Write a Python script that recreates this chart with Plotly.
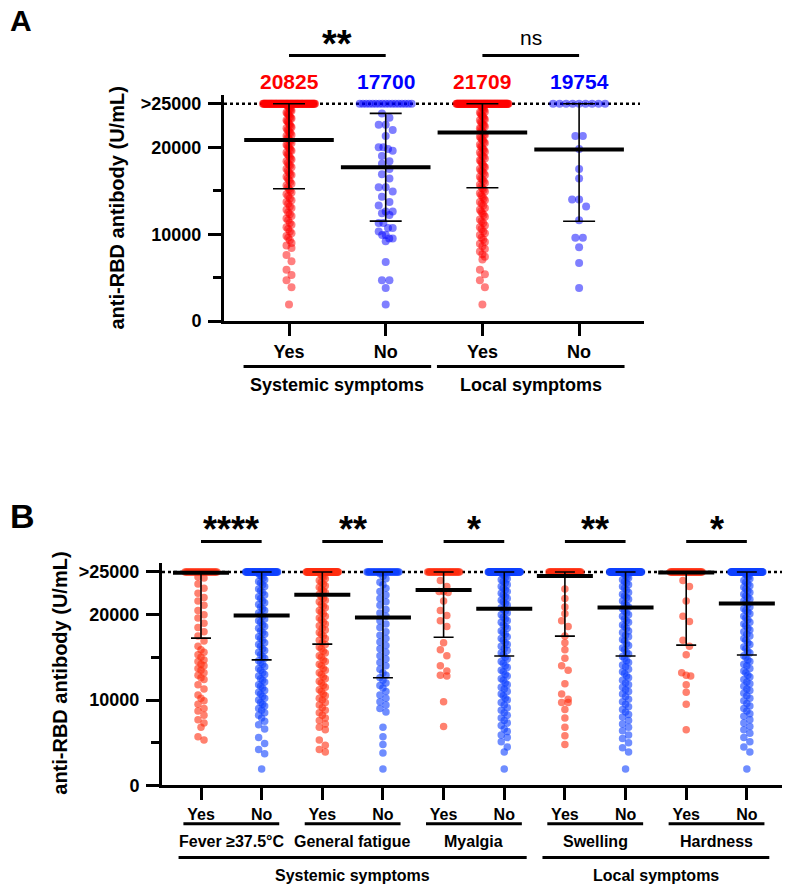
import plotly.graph_objects as go

# The page body adds an 8 px margin, so figure pixel = page pixel - 8
PAGE_W, PAGE_H, BODY = 790, 895, 8
W, H = PAGE_W, PAGE_H
FONT = "Liberation Sans, Arial, sans-serif"
CAP = 25000

# ---------------- DATA (values in 1000 U/mL; capped = number of ">25000" results) ----------------
A_labels = ["Yes", "No", "Yes", "No"]
A_groups = ["Systemic symptoms", "Local symptoms"]
A_means = [20825, 17700, 21709, 19754]
A_sd = [5600, 6200, 6370, 8270]
A_capped = [95, 17, 110, 9]
A_sys_yes = [24.9, 24.8, 24.8, 24.6, 24.5, 24.4, 24.3, 24.2, 24.0, 23.9, 23.8, 23.7, 23.5, 23.4, 23.3, 23.1,
             23.0, 22.9, 22.7, 22.6, 22.4, 22.3, 22.2, 22.0, 21.9, 21.7, 21.6, 21.4, 21.3, 21.1, 21.0, 20.8,
             20.7, 20.5, 20.3, 20.2, 20.0, 19.9, 19.7, 19.6, 19.4, 19.2, 19.1, 18.9, 18.7, 18.6, 18.4, 18.2,
             18.0, 17.9, 17.7, 17.5, 17.3, 17.1, 16.9, 16.8, 16.6, 16.4, 16.2, 16.0, 15.8, 15.6, 15.4, 15.2,
             15.0, 14.8, 14.6, 14.4, 14.1, 13.9, 13.7, 13.5, 13.2, 13.0, 12.8, 12.5, 12.3, 12.1, 11.8, 11.6,
             11.3, 11.1, 10.8, 10.6, 10.3, 10.1, 9.8, 9.6, 9.3, 9.0, 8.7, 8.4, 7.6, 6.9, 5.9, 5.3, 4.7, 3.9, 1.9]
A_sys_no = [23.9, 23.4, 22.6, 22.6, 22.0, 21.3, 20.0, 20.0, 19.8, 19.6, 19.0, 18.4, 18.1, 17.5, 16.9, 16.4,
            15.4, 15.4, 14.9, 14.3, 13.7, 13.3, 12.6, 12.6, 12.4, 12.2, 11.3, 11.3, 10.7, 10.7, 10.3, 9.9,
            9.9, 9.5, 9.5, 9.2, 6.8, 4.7, 4.7, 3.8, 1.9]
A_loc_yes = [24.9, 24.9, 24.7, 24.6, 24.6, 24.4, 24.3, 24.1, 24.0, 23.9, 23.7, 23.6, 23.5, 23.3, 23.2, 23.1,
             22.9, 22.8, 22.6, 22.5, 22.4, 22.2, 22.1, 21.9, 21.8, 21.7, 21.5, 21.4, 21.2, 21.1, 20.9, 20.8,
             20.6, 20.5, 20.3, 20.1, 20.0, 19.8, 19.7, 19.5, 19.4, 19.2, 19.0, 18.9, 18.7, 18.5, 18.4, 18.2,
             18.0, 17.8, 17.7, 17.5, 17.3, 17.2, 17.0, 16.8, 16.6, 16.4, 16.3, 16.1, 15.9, 15.7, 15.5, 15.3,
             15.1, 14.9, 14.7, 14.5, 14.3, 14.1, 13.9, 13.7, 13.5, 13.3, 13.0, 12.8, 12.6, 12.4, 12.2, 12.0,
             11.7, 11.5, 11.3, 11.0, 10.8, 10.6, 10.3, 10.1, 9.9, 9.6, 9.4, 9.1, 8.9, 8.6, 8.3, 8.0, 7.7,
             7.4, 7.1, 5.9, 5.4, 4.7, 3.9, 1.9]
A_loc_no = [21.3, 21.3, 19.8, 17.5, 16.4, 14.0, 14.0, 13.2, 11.6, 9.6, 9.6, 8.5, 6.7, 3.8]
A_sig = ["**", "ns"]

B_labels = ["Yes", "No"] * 5
B_sub = ["Fever ≥37.5°C", "General fatigue", "Myalgia", "Swelling", "Hardness"]
B_groups = ["Systemic symptoms", "Local symptoms"]
B_means = [24900, 19900, 22340, 19680, 22900, 20700, 24540, 20830, 24950, 21300]
B_sd = [7650, 5200, 5790, 7080, 5540, 5540, 7060, 5670, 8520, 6020]
B_capped = [28, 60, 70, 35, 35, 85, 40, 80, 40, 85]
B_sig = ["****", "**", "*", "**", "*"]
B_fever_yes = [24.4, 24.3, 23.6, 23.1, 22.5, 22.0, 21.6, 21.1, 20.5, 20.0, 19.6, 19.0, 18.5, 18.0, 17.5,
               16.9, 16.3, 15.9, 15.6, 15.3, 15.0, 14.7, 14.5, 14.2, 14.0, 13.7, 13.5, 13.2, 12.9, 12.6,
               12.4, 11.8, 11.3, 10.6, 10.2, 9.9, 9.5, 9.0, 8.7, 8.2, 7.7, 7.3, 6.8, 5.7, 5.3]
B_fever_no = [24.8, 24.6, 24.5, 24.3, 24.1, 23.9, 23.7, 23.5, 23.3, 23.0, 22.8, 22.6, 22.3, 22.1, 21.9,
              21.6, 21.4, 21.2, 20.9, 20.7, 20.5, 20.2, 20.0, 19.8, 19.5, 19.3, 19.1, 18.8, 18.6, 18.4,
              18.1, 17.9, 17.7, 17.4, 17.2, 17.0, 16.7, 16.5, 16.3, 16.0, 15.8, 15.6, 15.3, 15.1, 14.9,
              14.6, 14.4, 14.2, 13.9, 13.7, 13.5, 13.2, 13.0, 12.8, 12.5, 12.3, 12.1, 11.8, 11.6, 11.4,
              11.1, 10.9, 10.7, 10.4, 10.2, 10.0, 9.7, 9.5, 9.3, 9.0, 8.8, 8.5, 8.2, 7.9, 7.5, 7.1, 6.6,
              5.6, 4.9, 4.2, 3.7, 1.9]
B_fatigue_yes = [24.9, 24.7, 24.5, 24.4, 24.2, 24.0, 23.8, 23.6, 23.4, 23.2, 23.0, 22.8, 22.6, 22.4, 22.1,
                 21.9, 21.7, 21.5, 21.2, 21.0, 20.8, 20.5, 20.3, 20.1, 19.8, 19.6, 19.4, 19.1, 18.9, 18.7,
                 18.4, 18.2, 17.9, 17.7, 17.5, 17.2, 17.0, 16.7, 16.5, 16.2, 16.0, 15.7, 15.5, 15.2, 15.0,
                 14.7, 14.5, 14.2, 14.0, 13.7, 13.5, 13.2, 13.0, 12.7, 12.5, 12.2, 12.0, 11.7, 11.5, 11.2,
                 11.0, 10.7, 10.5, 10.2, 10.0, 9.7, 9.4, 9.1, 8.8, 8.5, 8.2, 7.9, 7.6, 7.2, 6.8, 6.5,
                 5.3, 4.7, 4.2, 3.9]
B_fatigue_no = [24.8, 24.5, 24.2, 23.8, 23.5, 23.1, 22.7, 22.3, 21.9, 21.5, 21.1, 20.6, 20.2, 19.8, 19.3,
                18.9, 18.5, 18.0, 17.6, 17.2, 16.8, 16.4, 16.0, 15.6, 15.2, 14.8, 14.4, 14.0, 13.6, 13.2,
                12.9, 12.6, 12.3, 12.0, 11.7, 11.4, 11.0, 10.6, 10.2, 9.8, 9.4, 9.0, 8.6, 6.8, 5.7, 4.8,
                3.8, 1.9]
B_myalgia_yes = [24.0, 23.3, 22.7, 22.7, 22.6, 21.6, 20.5, 19.9, 19.3, 18.6, 16.7, 15.9, 15.2, 14.0, 13.4,
                 12.9, 12.8, 9.8, 6.9]
B_myalgia_no = [24.9, 24.7, 24.6, 24.4, 24.2, 24.1, 23.9, 23.7, 23.5, 23.3, 23.1, 22.9, 22.7, 22.5, 22.3,
                22.1, 21.9, 21.7, 21.5, 21.3, 21.1, 20.8, 20.6, 20.4, 20.2, 20.0, 19.7, 19.5, 19.3, 19.1,
                18.8, 18.6, 18.4, 18.1, 17.9, 17.7, 17.4, 17.2, 17.0, 16.7, 16.5, 16.3, 16.0, 15.8, 15.5,
                15.3, 15.0, 14.8, 14.5, 14.3, 14.0, 13.8, 13.5, 13.3, 13.0, 12.8, 12.5, 12.3, 12.0, 11.8,
                11.5, 11.3, 11.0, 10.7, 10.5, 10.2, 10.0, 9.7, 9.4, 9.1, 8.8, 8.5, 8.2, 7.9, 7.6, 7.3,
                7.0, 6.6, 6.3, 5.9, 5.6, 5.1, 4.5, 3.9, 1.9]
B_swelling_yes = [23.0, 21.9, 20.9, 20.1, 19.3, 18.6, 17.5, 16.7, 15.9, 14.9, 14.0, 13.5, 11.9, 10.7, 10.1,
                  9.7, 9.7, 8.9, 7.9, 6.8, 5.8, 4.8]
B_swelling_no = [24.9, 24.8, 24.6, 24.4, 24.3, 24.1, 23.9, 23.7, 23.5, 23.3, 23.1, 22.9, 22.6, 22.4, 22.2,
                 22.0, 21.8, 21.6, 21.3, 21.1, 20.9, 20.7, 20.4, 20.2, 20.0, 19.8, 19.5, 19.3, 19.1, 18.8,
                 18.6, 18.4, 18.1, 17.9, 17.6, 17.4, 17.1, 16.9, 16.6, 16.4, 16.1, 15.9, 15.6, 15.4, 15.1,
                 14.9, 14.6, 14.4, 14.1, 13.9, 13.6, 13.3, 13.1, 12.8, 12.6, 12.3, 12.0, 11.8, 11.5, 11.2,
                 11.0, 10.7, 10.4, 10.1, 9.8, 9.5, 9.2, 8.9, 8.6, 8.3, 8.0, 7.6, 7.2, 6.8, 6.4, 5.9, 5.5,
                 5.0, 4.4, 3.9, 1.9]
B_hardness_yes = [24.0, 23.3, 21.6, 19.8, 19.2, 17.0, 16.3, 15.3, 13.2, 12.9, 12.8, 11.8, 10.9, 9.5, 6.5]
B_hardness_no = [24.9, 24.8, 24.7, 24.5, 24.4, 24.2, 24.0, 23.8, 23.6, 23.4, 23.2, 23.0, 22.8, 22.6, 22.4,
                 22.2, 22.0, 21.8, 21.6, 21.4, 21.2, 20.9, 20.7, 20.5, 20.3, 20.1, 19.8, 19.6, 19.4, 19.1,
                 18.9, 18.7, 18.4, 18.2, 18.0, 17.7, 17.5, 17.2, 17.0, 16.7, 16.5, 16.2, 16.0, 15.7, 15.5,
                 15.2, 15.0, 14.7, 14.5, 14.2, 14.0, 13.7, 13.4, 13.2, 12.9, 12.7, 12.4, 12.1, 11.9, 11.6,
                 11.3, 11.1, 10.8, 10.5, 10.2, 9.9, 9.6, 9.3, 9.0, 8.7, 8.4, 8.1, 7.7, 7.3, 6.9, 6.5, 6.1,
                 5.6, 5.1, 4.5, 3.9, 1.9]

A_values = [A_sys_yes, A_sys_no, A_loc_yes, A_loc_no]
B_values = [B_fever_yes, B_fever_no, B_fatigue_yes, B_fatigue_no, B_myalgia_yes, B_myalgia_no,
            B_swelling_yes, B_swelling_no, B_hardness_yes, B_hardness_no]


# ---------------- LAYOUT GEOMETRY (page pixels) ----------------
def xp(px):
    return min(max((px - BODY) / W, 0.0), 1.0)


def yp(py):
    return min(max(1 - (py - BODY) / H, 0.0), 1.0)


# panel A: category 0 at px 289, 96.7 px per category; y axis 0 at px 324, 0.0088 px per U/mL
A_c0, A_dx, A_left, A_right = 289, 96.7, 224, 644
A_ybot, A_ypx = 324, 0.0088
# panel B
B_c0, B_dx, B_left, B_right = 201, 60.65, 162, 788
B_ybot, B_ypx = 794, 0.00864
YMAX = 26000

RED_A, BLUE_A = "rgb(255,0,0)", "rgb(0,0,255)"
RED_B, BLUE_B = "rgb(255,45,15)", "rgb(15,65,255)"


def swarm(vals_k, capped, xpx, ypx, d, top_w, col_w):
    """Simple beeswarm: returns x offsets (category units) and y values."""
    xs, ys = [], []
    n = capped
    s = min(d, top_w / (n - 1)) if n > 1 else 0
    for k in range(n):
        xs.append((k - (n - 1) / 2) * s / xpx)
        ys.append(CAP)
    v = sorted([x * 1000 for x in vals_k], reverse=True)
    i = 0
    while i < len(v):
        j = i
        while j < len(v) and (v[i] - v[j]) * ypx < d:
            j += 1
        m = j - i
        s = min(d, col_w / (m - 1)) if m > 1 else 0
        for k in range(m):
            xs.append((k - (m - 1) / 2) * s / xpx)
            ys.append(v[i + k])
        i = j
    return xs, ys


fig = go.Figure()

# ---- panel A dots
for i, vals in enumerate(A_values):
    col_w = 5 if len(vals) > 60 else 14
    dx, ys = swarm(vals, A_capped[i], A_dx, A_ypx, 7.5, 52, col_w)
    col = RED_A if i % 2 == 0 else BLUE_A
    fig.add_trace(go.Scatter(x=[i + o for o in dx], y=ys, mode="markers", xaxis="x", yaxis="y",
                             marker=dict(size=8, color=col, opacity=0.5, line=dict(width=0)),
                             showlegend=False, hoverinfo="skip"))
# ---- panel B dots
for i, vals in enumerate(B_values):
    col_w = 6 if len(vals) > 40 else 9
    dx, ys = swarm(vals, B_capped[i], B_dx, B_ypx, 6.5, 32, col_w)
    col = RED_B if i % 2 == 0 else BLUE_B
    fig.add_trace(go.Scatter(x=[i + o for o in dx], y=ys, mode="markers", xaxis="x2", yaxis="y2",
                             marker=dict(size=7.5, color=col, opacity=0.6, line=dict(width=0)),
                             showlegend=False, hoverinfo="skip"))

# ---- mean + SD
fig.add_trace(go.Scatter(
    x=list(range(len(A_means))), y=A_means, mode="markers", xaxis="x", yaxis="y",
    marker=dict(symbol="line-ew", size=64, color="black", line=dict(width=4, color="black")),
    error_y=dict(type="data", symmetric=False,
                 array=[max(min(m + s, CAP) - m, 0) for m, s in zip(A_means, A_sd)],
                 arrayminus=A_sd, thickness=1.6, width=16, color="black"),
    showlegend=False, hoverinfo="skip"))
fig.add_trace(go.Scatter(
    x=list(range(len(B_means))), y=B_means, mode="markers", xaxis="x2", yaxis="y2",
    marker=dict(symbol="line-ew", size=40, color="black", line=dict(width=4, color="black")),
    error_y=dict(type="data", symmetric=False,
                 array=[max(min(m + s, CAP) - m, 0) for m, s in zip(B_means, B_sd)],
                 arrayminus=B_sd, thickness=1.6, width=10, color="black"),
    showlegend=False, hoverinfo="skip"))

tickfont = dict(family=FONT, size=18, color="black", weight="bold")
yaxis_common = dict(range=[0, YMAX], showgrid=False, zeroline=False, showline=True, linewidth=3,
                    linecolor="black", ticks="outside", ticklen=13, tickwidth=3, tickcolor="black",
                    tickvals=[0, 10000, 20000, 25000], ticktext=["0", "10000", "20000", ">25000"],
                    tickfont=tickfont, fixedrange=True, ticklabelstandoff=3,
                    minor=dict(tickvals=[5000, 15000], ticks="outside", ticklen=8, tickwidth=3,
                               tickcolor="black"))

fig.update_layout(
    width=W, height=H, margin=dict(l=0, r=0, t=0, b=0),
    paper_bgcolor="white", plot_bgcolor="white", showlegend=False,
    xaxis=dict(domain=[xp(A_left), xp(A_right)], anchor="y",
               range=[(A_left - A_c0) / A_dx, (A_right - A_c0) / A_dx],
               showgrid=False, zeroline=False, showline=True, linewidth=3, linecolor="black",
               ticks="outside", ticklen=12, tickwidth=3, tickcolor="black",
               tickvals=list(range(4)), ticktext=A_labels,
               tickfont=dict(family=FONT, size=18, color="black", weight="bold")),
    yaxis=dict(domain=[yp(A_ybot), yp(A_ybot - YMAX * A_ypx)], anchor="x", **yaxis_common),
    xaxis2=dict(domain=[xp(B_left), xp(B_right)], anchor="y2",
                range=[(B_left - B_c0) / B_dx, (B_right - B_c0) / B_dx],
                showgrid=False, zeroline=False, showline=True, linewidth=3, linecolor="black",
                ticks="outside", ticklen=12, tickwidth=3, tickcolor="black",
                tickvals=list(range(10)), ticktext=B_labels,
                tickfont=dict(family=FONT, size=16, color="black", weight="bold")),
    yaxis2=dict(domain=[yp(B_ybot), yp(B_ybot - YMAX * B_ypx)], anchor="x2", **yaxis_common),
)

shapes = []
ann = []


def line_x(xref, x0, x1, py, width=3):
    return dict(type="line", xref=xref, yref="paper", x0=x0, x1=x1, y0=yp(py), y1=yp(py),
                line=dict(color="black", width=width))


def text(t, xref, x, py, size, color="black", bold=True, angle=0, xanchor="center"):
    return dict(text=t, xref=xref, yref="paper", x=x, y=yp(py), showarrow=False,
                xanchor=xanchor, yanchor="middle", textangle=angle,
                font=dict(family=FONT, size=size, color=color, weight="bold" if bold else "normal"))


# dotted >25000 reference lines
shapes.append(dict(type="line", xref="x", yref="y", x0=(A_left - A_c0) / A_dx, x1=(640 - A_c0) / A_dx,
                   y0=CAP, y1=CAP, layer="below", line=dict(color="black", width=2.5, dash="dot")))
shapes.append(dict(type="line", xref="x2", yref="y2", x0=(B_left - B_c0) / B_dx, x1=(B_right - B_c0) / B_dx,
                   y0=CAP, y1=CAP, layer="below", line=dict(color="black", width=2.5, dash="dot")))

# ---- panel A annotations
ann.append(text("A", "paper", xp(8), 20, 30, xanchor="left"))
for i, m in enumerate(A_means):
    ann.append(text(f"{m}", "x", i, 81, 21, RED_A if i % 2 == 0 else BLUE_A))
for p, s in enumerate(A_sig):
    shapes.append(line_x("x", 2 * p, 2 * p + 1, 55))
    if s == "ns":
        ann.append(text(s, "x", 2 * p + 0.5, 37, 21, bold=False))
    else:
        ann.append(text(s, "x", 2 * p + 0.5, 43, 38))
for p, g in enumerate(A_groups):
    c = 2 * p + 0.5
    shapes.append(line_x("x", c - 0.97, c + 0.97, 370))
    ann.append(text(g, "x", c, 389, 18))
ann.append(text("anti-RBD antibody (U/mL)", "paper", xp(117), 210, 20, angle=-90))

# ---- panel B annotations
ann.append(text("B", "paper", xp(8), 521, 34, xanchor="left"))
for p, s in enumerate(B_sig):
    shapes.append(line_x("x2", 2 * p, 2 * p + 1, 547))
    ann.append(text(s, "x2", 2 * p + 0.5, 535, 36))
for p, s in enumerate(B_sub):
    c = 2 * p + 0.5
    shapes.append(line_x("x2", c - 0.79, c + 0.79, 833))
    ann.append(text(s, "x2", c, 851, 16))
B_group_span = [(0, 5), (6, 9)]
for (a, b), g in zip(B_group_span, B_groups):
    c = (a + b) / 2
    half = (b - a) / 2 + 0.37
    shapes.append(line_x("x2", c - half, c + half, 867))
    ann.append(text(g, "x2", c, 885, 16))
ann.append(text("anti-RBD antibody (U/mL)", "paper", xp(60), 681, 20, angle=-90))

fig.update_layout(shapes=shapes, annotations=ann)
fig.write_html("out.html")
